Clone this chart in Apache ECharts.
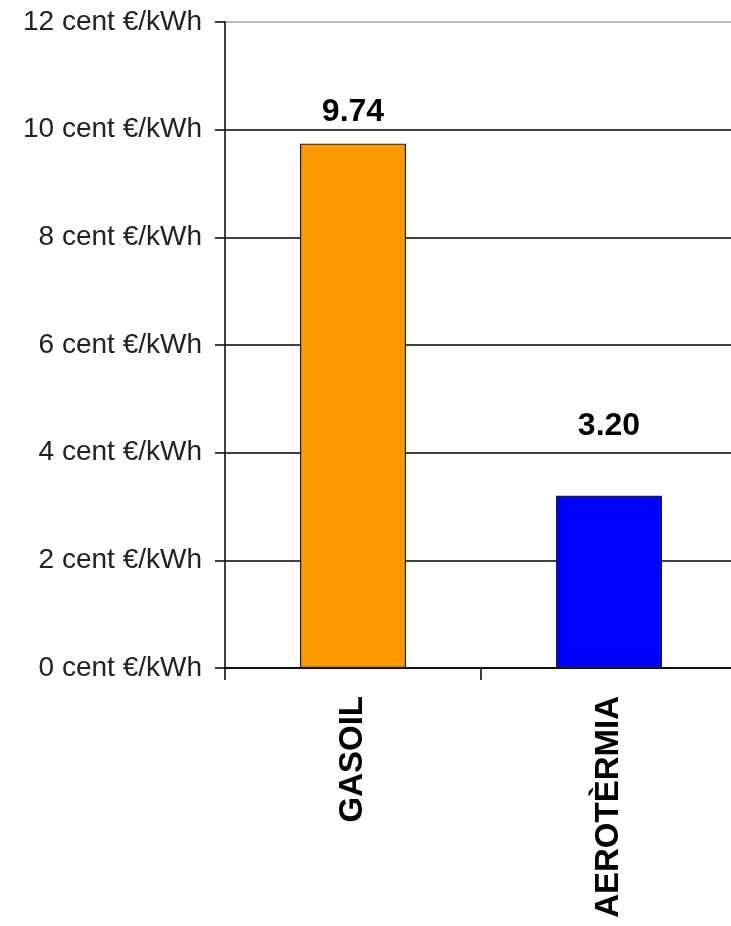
<!DOCTYPE html>
<html>
<head>
<meta charset="utf-8">
<script src="https://cdn.jsdelivr.net/npm/echarts@6/dist/echarts.min.js"></script>
<style>
html,body{margin:0;padding:0;background:#fff;overflow:hidden;width:731px;height:926px;}
#chart{width:745px;height:926px;}
</style>
</head>
<body>
<div id="chart"></div>
<script>
const categories = ['GASOIL', 'AEROTÈRMIA'];
const values = [9.74, 3.20];
const barColors = ['#FF9900', '#0000FF'];
const yTicks = [0, 2, 4, 6, 8, 10, 12];
const yUnit = ' cent €/kWh';

const labelDistances = [15, 54];
const chart = echarts.init(document.getElementById('chart'), null, {renderer: 'canvas'});
chart.setOption({
  animation: false,
  backgroundColor: '#ffffff',
  grid: {left: 225, right: 8, top: 22, bottom: 258, containLabel: false},
  xAxis: {
    type: 'category',
    data: categories,
    axisLine: {lineStyle: {color: '#000', width: 1.5}},
    axisTick: {show: true, length: 12, lineStyle: {color: '#000', width: 1.5}},
    axisLabel: {
      rotate: 90,
      margin: 28,
      color: '#000',
      fontFamily: 'Liberation Sans, Arial, sans-serif',
      fontWeight: 'bold',
      fontSize: 33
    }
  },
  yAxis: {
    type: 'value',
    min: yTicks[0],
    max: yTicks[yTicks.length - 1],
    interval: 2,
    axisLine: {show: true, lineStyle: {color: '#000', width: 1.5}},
    axisTick: {show: true, length: 10, lineStyle: {color: '#000', width: 1.5}},
    axisLabel: {
      margin: 23,
      color: '#222',
      fontFamily: 'Liberation Sans, Arial, sans-serif',
      fontSize: 28,
      formatter: v => v + yUnit
    },
    splitLine: {
      show: true,
      lineStyle: {color: ['#000', '#000', '#000', '#000', '#000', '#000', '#aaa'], width: 1.5}
    }
  },
  series: [{
    type: 'bar',
    barWidth: 106,
    data: values.map((v, i) => ({
      value: v,
      itemStyle: {color: barColors[i]},
      label: {distance: labelDistances[i]}
    })),
    itemStyle: {borderColor: '#222', borderWidth: 1.2},
    label: {
      show: true,
      position: 'top',
      color: '#000',
      fontFamily: 'Liberation Sans, Arial, sans-serif',
      fontWeight: 'bold',
      fontSize: 32,
      formatter: p => p.value.toFixed(2)
    }
  }]
});
</script>
</body>
</html>
